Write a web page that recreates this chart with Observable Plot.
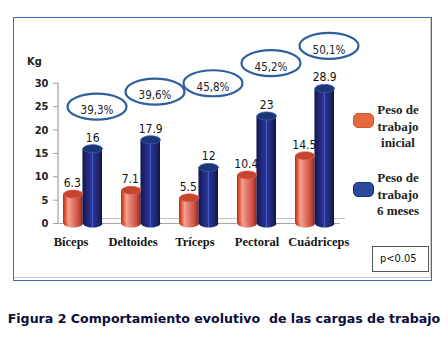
<!DOCTYPE html>
<html>
<head>
<meta charset="utf-8">
<script src="https://cdn.jsdelivr.net/npm/d3@7"></script>
<script src="https://cdn.jsdelivr.net/npm/@observablehq/plot@0.6"></script>
<style>
  html, body { margin: 0; padding: 0; background: #fff; }
  #wrap { position: relative; width: 448px; height: 340px; overflow: hidden; }
  #frame { position: absolute; left: 13px; top: 17px; width: 417px; height: 262px; border: 1.5px solid #3f6db4; box-sizing: content-box; }
  #frameInner { position: absolute; left: 13px; top: 17px; width: 417px; height: 260px; border-right: 1.5px solid #c8c8c8; border-bottom: 1.5px solid #c8c8c8; }
  #chart { position: absolute; left: 0; top: 0; }
  .narrow { font-family: "Liberation Sans Narrow", "Arial Narrow", "DejaVu Sans Condensed", "Liberation Sans", sans-serif; }
  #kg { position: absolute; left: 27px; top: 55px; font-size: 11px; font-weight: bold; color: #222; }
  #pbox { position: absolute; left: 372px; top: 246px; width: 57px; height: 26px; border: 1.5px solid #555; font-size: 11px; line-height: 23px; color: #111; padding-left: 7px; box-sizing: border-box; }
  .leg { position: absolute; font-family: "Liberation Serif", "Times New Roman", serif; font-weight: bold; font-size: 13px; line-height: 16.5px; text-align: center; color: #222; width: 62px; }
  .sym { position: absolute; width: 19px; height: 13px; border-radius: 5px; }
  #title { position: absolute; left: 0; width: 448px; top: 311px; text-align: center; font-family: "DejaVu Sans", Verdana, sans-serif; font-weight: bold; font-size: 12.6px; color: #0c0c3c; white-space: pre; }
</style>
</head>
<body>
<div id="wrap">
  <div id="frameInner"></div>
  <div id="frame"></div>
  <div id="chart"></div>
  <div id="kg" class="narrow">Kg</div>
  <div id="legend"></div>
  <div id="pbox" class="narrow">p&lt;0.05</div>
  <div id="title"></div>
</div>
<script>
// ---- data ----
const categories = ["Bíceps", "Deltoides", "Tríceps", "Pectoral", "Cuádriceps"];
const inicial = [6.3, 7.1, 5.5, 10.4, 14.5];
const seisMeses = [16, 17.9, 12, 23, 28.9];
const cambio = ["39,3%", "39,6%", "45,8%", "45,2%", "50,1%"];
const cambioNivel = [25, 28.2, 30, 34.3, 38];
const yTicks = [0, 5, 10, 15, 20, 25, 30];
const seriesNames = [["Peso de", "trabajo", "inicial"], ["Peso de", "trabajo", "6 meses"]];
const titleText = "Figura 2 Comportamiento evolutivo  de las cargas de trabajo";

const rows = categories.map((c, i) => ({
  cat: c, ini: inicial[i], fin: seisMeses[i], pct: cambio[i], nivel: cambioNivel[i]
}));

const NS = "http://www.w3.org/2000/svg";
function ellipseSymbol(rx, ry) {
  const k = 0.5523;
  return {
    draw(ctx) {
      ctx.moveTo(rx, 0);
      ctx.bezierCurveTo(rx, ry * k, rx * k, ry, 0, ry);
      ctx.bezierCurveTo(-rx * k, ry, -rx, ry * k, -rx, 0);
      ctx.bezierCurveTo(-rx, -ry * k, -rx * k, -ry, 0, -ry);
      ctx.bezierCurveTo(rx * k, -ry, rx, -ry * k, rx, 0);
      ctx.closePath();
    }
  };
}
function gradient(id, stops) {
  const g = document.createElementNS(NS, "linearGradient");
  g.setAttribute("id", id);
  g.setAttribute("x1", "0"); g.setAttribute("x2", "1"); g.setAttribute("y1", "0"); g.setAttribute("y2", "0");
  for (const [o, c] of stops) {
    const s = document.createElementNS(NS, "stop");
    s.setAttribute("offset", o); s.setAttribute("stop-color", c);
    g.appendChild(s);
  }
  return g;
}
const defsMark = () => {
  const defs = document.createElementNS(NS, "defs");
  defs.appendChild(gradient("gRed", [["0", "#a8301c"], ["0.12", "#e25634"], ["0.28", "#f3a095"], ["0.5", "#e37a6e"], ["0.78", "#cf5040"], ["1", "#952818"]]));
  defs.appendChild(gradient("gBlue", [["0", "#121650"], ["0.3", "#252c80"], ["0.46", "#2a338e"], ["0.5", "#4d6ef0"], ["0.54", "#2a338e"], ["0.8", "#20276f"], ["1", "#0f1244"]]));
  return defs;
};
const axisLine = (index, scales, values, dims) => {
  const l = document.createElementNS(NS, "line");
  const x = dims.marginLeft;
  l.setAttribute("x1", x); l.setAttribute("x2", x);
  l.setAttribute("y1", scales.y(0)); l.setAttribute("y2", scales.y(yTicks[yTicks.length - 1]));
  l.setAttribute("stroke", "#a0a0a0"); l.setAttribute("stroke-width", 1.2);
  return l;
};
// category labels sit on a slightly wider spacing than the bar groups
const spreadLabels = (index, scales, values, dims, context, next) => {
  const X = values.x;
  if (X) {
    const mid = (X[0] + X[X.length - 1]) / 2;
    values = { ...values, x: Array.from(X, (x) => mid - 4 + (x - mid) * 1.068) };
  }
  return next(index, scales, values, dims, context);
};

const half = 19.45;
const capR = ellipseSymbol(9.7, 4);
const narrow = '"Liberation Sans Narrow", "Arial Narrow", "DejaVu Sans Condensed", "Liberation Sans", sans-serif';

const plot = Plot.plot({
  width: 448,
  height: 300,
  marginLeft: 58,
  marginRight: 108,
  marginTop: 36,
  marginBottom: 77,
  style: { background: "transparent", overflow: "visible", fontFamily: narrow },
  x: { domain: categories, range: [52, 344], paddingInner: 0.333, paddingOuter: 0.1665, axis: null },
  y: { domain: [0, 40], axis: null },
  marks: [
    defsMark,
    Plot.ruleY([0], { stroke: "#c4c4c4", dx: 5, dy: -5 }),
    Plot.ruleY([0], { stroke: "#a8a8a8" }),
    axisLine,
    Plot.axisY({ ticks: yTicks, tickSize: 5, tickPadding: 5, stroke: "#a0a0a0", fontSize: 11, fontWeight: "bold", fill: "#222", label: null }),
    // bottoms
    Plot.dot(rows, { x: "cat", y: 0, dx: -half / 2, symbol: capR, fill: "url(#gRed)" }),
    Plot.dot(rows, { x: "cat", y: 0, dx: half / 2, symbol: capR, fill: "url(#gBlue)" }),
    // bars
    Plot.barY(rows, { x: "cat", y: "ini", insetRight: half, fill: "url(#gRed)" }),
    Plot.barY(rows, { x: "cat", y: "fin", insetLeft: half, fill: "url(#gBlue)" }),
    // caps
    Plot.dot(rows, { x: "cat", y: "ini", dx: -half / 2, symbol: capR, fill: "#c7442f", stroke: "#e06a55", strokeWidth: 0.6 }),
    Plot.dot(rows, { x: "cat", y: "fin", dx: half / 2, symbol: capR, fill: "#1b3677", stroke: "#3a5db0", strokeWidth: 0.8 }),
    // value labels
    Plot.text(rows, { x: "cat", y: "ini", text: d => String(d.ini), dx: -half / 2 - 1, dy: -11, fontSize: 12, fill: "#111" }),
    Plot.text(rows, { x: "cat", y: "fin", text: d => String(d.fin), dx: half / 2, dy: -11, fontSize: 12, fill: "#111" }),
    // percentage annotations
    Plot.dot(rows, { x: "cat", y: "nivel", dx: 14, symbol: ellipseSymbol(29.5, 13), fill: "none", stroke: "#2f5f9e", strokeWidth: 2.2 }),
    Plot.text(rows, { x: "cat", y: "nivel", text: "pct", dx: 14, dy: 4, fontSize: 11.5, fill: "#222" }),
    // category labels
    Plot.text(rows, { x: "cat", y: 0, text: "cat", dy: 18, fontSize: 12.5, fontWeight: "bold", fill: "#151515", fontFamily: '"Liberation Serif", "Times New Roman", serif', render: spreadLabels })
  ]
});
document.getElementById("chart").appendChild(plot);

// legend
const legend = document.getElementById("legend");
const legColors = [
  { bg: "#e5693c", border: "#d05a30" },
  { bg: "#2b4c9c", border: "#17306e" }
];
const legTops = [102, 170];
const symTops = [113, 182];
seriesNames.forEach((lines, i) => {
  const t = document.createElement("div");
  t.className = "leg";
  t.style.left = "367px";
  t.style.top = legTops[i] + "px";
  t.innerHTML = lines.join("<br>");
  legend.appendChild(t);
  const s = document.createElement("div");
  s.className = "sym";
  s.style.left = "353px";
  s.style.top = symTops[i] + "px";
  s.style.background = legColors[i].bg;
  s.style.border = "1px solid " + legColors[i].border;
  legend.appendChild(s);
});
document.getElementById("title").textContent = titleText;
</script>
</body>
</html>
